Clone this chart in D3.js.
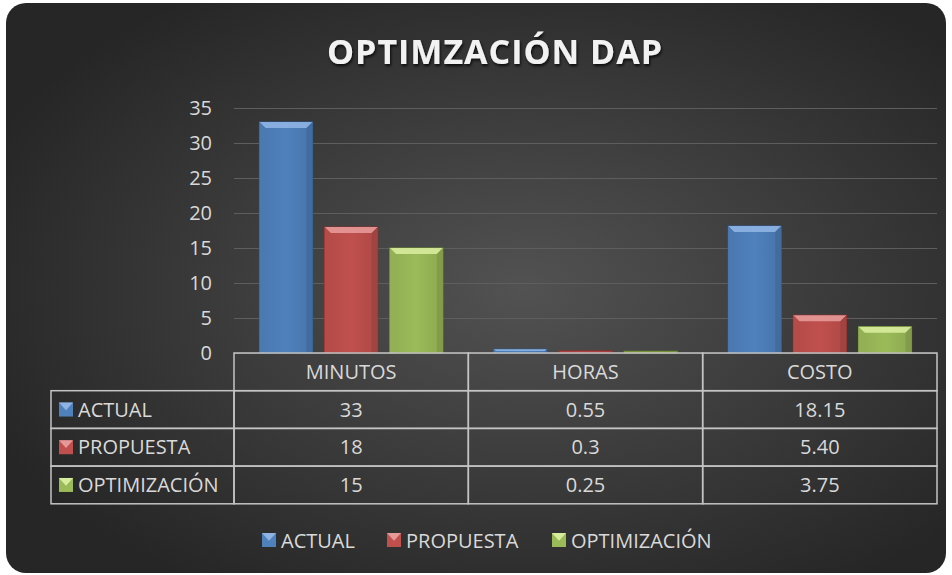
<!DOCTYPE html>
<html>
<head>
<meta charset="utf-8">
<script src="https://cdn.jsdelivr.net/npm/d3@7"></script>
<style>
    body { margin: 0; background: #ffffff; }
    svg text { font-family: "Open Sans", "Noto Sans", sans-serif; fill: #d9d9d9; }
</style>
</head>
<body>
<script>
// chart data
var categories = ["MINUTOS", "HORAS", "COSTO"];
var seriesNames = ["ACTUAL", "PROPUESTA", "OPTIMIZACIÓN"];
var actual = [33, 0.55, 18.15];
var propuesta = [18, 0.3, 5.40];
var optimizacion = [15, 0.25, 3.75];
var tableLabels = [["33", "0.55", "18.15"], ["18", "0.3", "5.40"], ["15", "0.25", "3.75"]];
var yTicks = [0, 5, 10, 15, 20, 25, 30, 35];

var colors = ["#4f81bd", "#c0504d", "#9bbb59"];
var lighter = ["#8fb4e3", "#e69a98", "#d7ec9c"];
var darker = ["#2f5a8e", "#8e2f2c", "#6f8c33"];

var W = 952, H = 575;
var svg = d3.select("body").append("svg")
    .attr("width", W)
    .attr("height", H);

var defs = svg.append("defs");
var bg = defs.append("radialGradient").attr("id", "bg")
    .attr("cx", "55%").attr("cy", "50%").attr("r", "62%");
bg.append("stop").attr("offset", "0%").attr("stop-color", "#525252");
bg.append("stop").attr("offset", "100%").attr("stop-color", "#262626");

// horizontal gradient for bar fronts
colors.forEach(function (c, i) {
    var g = defs.append("linearGradient").attr("id", "bar" + i)
        .attr("x1", 0).attr("x2", 1).attr("y1", 0).attr("y2", 0);
    g.append("stop").attr("offset", "0%").attr("stop-color", d3.color(c).darker(0.2));
    g.append("stop").attr("offset", "50%").attr("stop-color", c);
    g.append("stop").attr("offset", "100%").attr("stop-color", d3.color(c).darker(0.3));
});

var shadow = defs.append("filter").attr("id", "tshadow")
    .attr("x", "-10%").attr("y", "-20%").attr("width", "120%").attr("height", "160%");
shadow.append("feDropShadow").attr("dx", 1).attr("dy", 2).attr("stdDeviation", 1.5)
    .attr("flood-color", "#000").attr("flood-opacity", 0.8);

// background panel
svg.append("rect")
    .attr("x", 6).attr("y", 3)
    .attr("width", 940).attr("height", 570)
    .attr("rx", 20).attr("ry", 20)
    .attr("fill", "url(#bg)");

// title
svg.append("text")
    .attr("x", 495).attr("y", 64)
    .attr("text-anchor", "middle")
    .style("font-size", "34px")
    .style("font-weight", "bold")
    .style("letter-spacing", "1px")
    .style("fill", "#f2f2f2")
    .attr("filter", "url(#tshadow)")
    .text("OPTIMZACIÓN DAP");

var plotLeft = 234, plotRight = 937, plotTop = 108, plotBottom = 353;

var x = d3.scaleBand().domain(categories).range([plotLeft, plotRight]);
var xs = d3.scaleBand().domain(seriesNames).range([0, x.bandwidth()])
    .paddingInner(0.185).paddingOuter(0.39);
var y = d3.scaleLinear().domain([0, 35]).range([plotBottom, plotTop]);

// gridlines
svg.append("g")
    .attr("transform", "translate(" + plotLeft + ",0)")
    .call(d3.axisLeft(y).tickValues(yTicks).tickSize(-(plotRight - plotLeft)).tickFormat(""))
    .call(function (g) {
        g.select(".domain").remove();
        g.selectAll("line").attr("stroke", "#5e5e5e").attr("stroke-width", 1.2);
    });

// y axis labels
svg.append("g")
    .attr("transform", "translate(" + (plotLeft - 22) + ",0)")
    .call(d3.axisLeft(y).tickValues(yTicks).tickSize(0).tickPadding(0))
    .call(function (g) {
        g.select(".domain").remove();
        g.selectAll("text").style("font-size", "20px").style("fill", "#d9d9d9");
    });

// bars
var allSeries = [actual, propuesta, optimizacion];
var barData = [];
allSeries.forEach(function (vals, si) {
    vals.forEach(function (v, ci) {
        barData.push({s: si, c: ci, v: v});
    });
});

var bars = svg.append("g").selectAll("g").data(barData).enter().append("g")
    .attr("transform", function (d) {
        return "translate(" + (x(categories[d.c]) + xs(seriesNames[d.s])) + ",0)";
    });

bars.each(function (d) {
    var g = d3.select(this);
    var w = xs.bandwidth();
    var y0 = y(d.v), y1 = y(0);
    var h = y1 - y0;
    var b = Math.min(6, h / 2, w / 2);
    g.append("rect")
        .attr("x", 0).attr("y", y0)
        .attr("width", w).attr("height", h)
        .attr("fill", "url(#bar" + d.s + ")")
        .attr("stroke", darker[d.s]).attr("stroke-width", 1);
    if (h > 3) {
        // top bevel
        g.append("polygon")
            .attr("points", [[0, y0], [w, y0], [w - b, y0 + b], [b, y0 + b]].join(" "))
            .attr("fill", lighter[d.s]).attr("opacity", 0.9);
        // side bevels
        g.append("polygon")
            .attr("points", [[0, y0], [b, y0 + b], [b, y1], [0, y1]].join(" "))
            .attr("fill", d3.color(colors[d.s]).darker(0.15));
        g.append("polygon")
            .attr("points", [[w, y0], [w - b, y0 + b], [w - b, y1], [w, y1]].join(" "))
            .attr("fill", d3.color(colors[d.s]).darker(0.5));
    }
});

// data table
var rowH = 37.7;
var tableLeft = 51;
var lineColor = "#c4c4c4";
var table = svg.append("g");

// header row
categories.forEach(function (c) {
    table.append("rect")
        .attr("x", x(c)).attr("y", plotBottom)
        .attr("width", x.bandwidth()).attr("height", rowH)
        .attr("fill", "none").attr("stroke", lineColor).attr("stroke-width", 1.5);
    table.append("text")
        .attr("x", x(c) + x.bandwidth() / 2).attr("y", plotBottom + rowH / 2)
        .attr("dy", "0.35em").attr("text-anchor", "middle")
        .style("font-size", "20px")
        .text(c);
});

seriesNames.forEach(function (s, si) {
    var ry = plotBottom + rowH * (si + 1);
    table.append("rect")
        .attr("x", tableLeft).attr("y", ry)
        .attr("width", plotLeft - tableLeft).attr("height", rowH)
        .attr("fill", "none").attr("stroke", lineColor).attr("stroke-width", 1.5);
    drawMarker(table, tableLeft + 8, ry + rowH / 2 - 7, si);
    table.append("text")
        .attr("x", tableLeft + 27).attr("y", ry + rowH / 2)
        .attr("dy", "0.35em")
        .style("font-size", "20px")
        .text(s);
    categories.forEach(function (c, ci) {
        table.append("rect")
            .attr("x", x(c)).attr("y", ry)
            .attr("width", x.bandwidth()).attr("height", rowH)
            .attr("fill", "none").attr("stroke", lineColor).attr("stroke-width", 1.5);
        table.append("text")
            .attr("x", x(c) + x.bandwidth() / 2).attr("y", ry + rowH / 2)
            .attr("dy", "0.35em").attr("text-anchor", "middle")
            .style("font-size", "20px")
            .text(tableLabels[si][ci]);
    });
});

function drawMarker(g, mx, my, si) {
    var s = 14;
    g.append("rect").attr("x", mx).attr("y", my).attr("width", s).attr("height", s)
        .attr("fill", colors[si]);
    g.append("polygon")
        .attr("points", [[mx, my], [mx + s, my], [mx + s / 2, my + s * 0.55]].join(" "))
        .attr("fill", lighter[si]);
}

// legend
var legend = svg.append("g");
var legendX = [262, 387, 552];
seriesNames.forEach(function (s, si) {
    drawMarker(legend, legendX[si], 533, si);
    legend.append("text")
        .attr("x", legendX[si] + 19).attr("y", 540.5)
        .attr("dy", "0.35em")
        .style("font-size", "20px")
        .text(s);
});
</script>
</body>
</html>
